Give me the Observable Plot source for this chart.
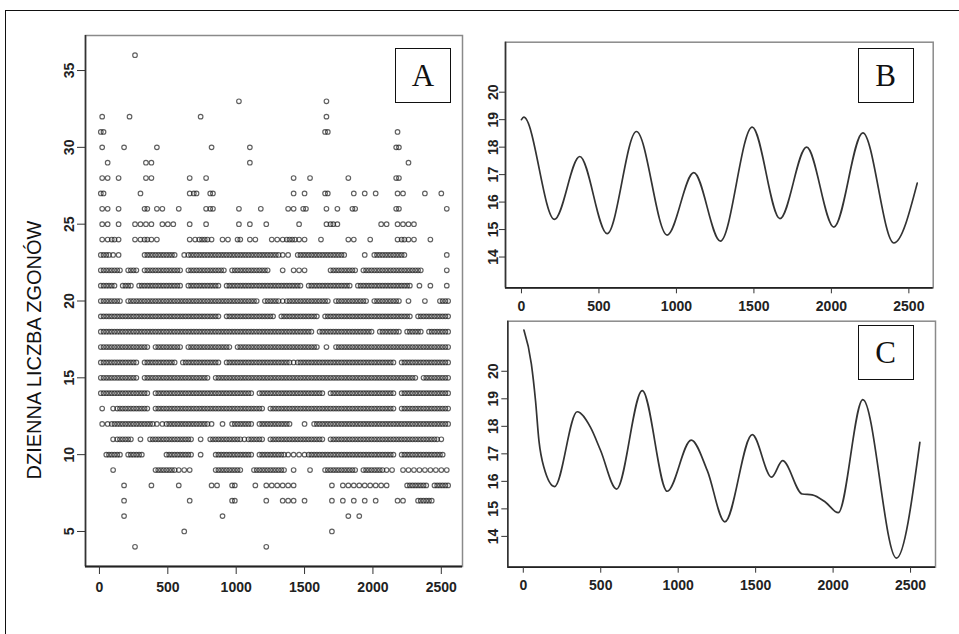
<!DOCTYPE html>
<html>
<head>
<meta charset="utf-8">
<script src="https://cdn.jsdelivr.net/npm/d3@7"></script>
<script src="https://cdn.jsdelivr.net/npm/@observablehq/plot@0.6"></script>
<style>
  html, body { margin: 0; padding: 0; background: #fff; }
  #wrap { position: relative; width: 959px; height: 634px; overflow: hidden; background: #fff; }
  #wrap svg { position: absolute; left: 0; top: 0; }
  .outer { position: absolute; left: 5px; top: 10px; width: 970px; height: 640px;
           border-top: 1.5px solid #111; border-left: 1.5px solid #111; box-sizing: border-box; }
  .ylab { position: absolute; left: 33.5px; top: 350px; transform: translate(-50%, -50%) rotate(-90deg);
          white-space: nowrap; font: 20px "Liberation Sans", Arial, sans-serif; color: #111; }
  .tag { position: absolute; width: 56px; height: 55px; box-sizing: border-box; border: 1.6px solid #111;
         display: flex; align-items: center; justify-content: center; background: #fff;
         font: 31px/1 "Liberation Serif", "Times New Roman", serif; color: #111; }
</style>
</head>
<body>
<div id="wrap">
  <div class="outer"></div>
</div>
<script>
// ---------------- DATA ----------------
// Panel A: daily deaths. Each row = one death count; tokens are 40-day bins
// ("a-b" dense run, single number = isolated circle, suffix o/O overrides density).
const binDays = 40;
const deathCounts = [36,35,34,33,32,31,30,29,28,27,26,25,24,23,22,21,20,19,18,17,16,15,14,13,12,11,10,9,8,7,6,5,4];
const rowBins = [
  "6",
  "",
  "",
  "25 41",
  "0 5 18 41",
  "0O 41O 54",
  "0 4 10 20 27 54O",
  "1 8 9 27 56",
  "0 1 3 8 9 16 19 35 38 45 54O",
  "0O 7 16 17O 20O 35 37 41O 46 48 50 54 55 59 62",
  "0 1 3 8O 10 11 14 19 20O 25 29 34 35 37O 41 43 46O 54O 63",
  "0 1 3 6-9o 11-13o 16 19 25 27 30 36 41 42O 43 51 52 54-57o",
  "0 1 2O 3 6 7 8O 9 10 16 17 18O 19O 20 22 23 25O 27 28 31 32 33 34O 35O 36 37 40 45 46 49 54 55O 56 57 60",
  "0-1 2o 3o 8-13 15o 16-32 33o 34o 36-44 48o 50-55 63o",
  "0-3 5-6 8-14 16-22 24-30 33o 35o 36 37o 42-46 48-51 52-58 63",
  "0-2 4-5 7-14 16-21 23-36 38-45 47-56 58o 60o 63o",
  "0-3 5-28 30-32 33o 34-41 43-48 50-54 56o 59o 62-63",
  "0-21 23-31 33-39 41-56 58-63",
  "0-38 40-49 51-54 56-58 60-63",
  "0-8 10-14 16-23 25-39 41o 43-63",
  "0-6 8-13 15-21 23-34 35o 36-53 55-63",
  "0-6 8-19 21-57 59-63",
  "0-8 10-27 29-40 42-53 55-63",
  "0o 2o 3-8 10-29 31-53 55-63",
  "0o 1o 2-9 10o 11o 12-19 20o 22o 24-27 29-34 37o 39-63",
  "2o 3-5 7o 9-16 18o 20-25 26o 27-29 31-40 42-54 55-61 62o",
  "1-3 5-7 12-16 18o 21-24 25-27 29-33 34-37o 38-53 55-56 57-62",
  "2o 10-13 14-16o 21-25 28-33 35o 38o 41-46 48-51 52-53o 55-56o 57-63o",
  "4o 9o 14o 20o 21o 24O 28o 30-34o 35o 42o 44o 45-47o 48-50o 51-52o 56-59 61-63",
  "4o 16o 24O 30o 33o 34o 35o 37o 42o 44o 46o 48o 50o 54o 55o 58-60",
  "4o 22o 45o 47o",
  "15o 42o",
  "6o 30o"
];

// Panel B: smoothed seasonal component (day, value)
const bDays   = [0, 15, 213, 376, 553, 742, 940, 1112, 1284, 1489, 1668, 1840, 2016, 2203, 2403, 2554];
const bValues = [19.0, 19.09, 15.37, 17.66, 14.85, 18.57, 14.8, 17.07, 14.58, 18.73, 15.4, 18.0, 15.09, 18.52, 14.51, 16.69];

// Panel C: smoothed series (day, value)
const cDays   = [4, 52, 79, 101, 133, 202, 348, 434, 499, 602, 768, 929, 1084, 1188, 1301, 1478, 1603, 1674, 1801, 1865, 1951, 2033, 2192, 2409, 2560];
const cValues = [21.5, 20.27, 18.93, 17.48, 16.51, 15.81, 18.53, 17.96, 17.12, 15.72, 19.3, 15.64, 17.5, 16.39, 14.53, 17.7, 16.15, 16.75, 15.54, 15.51, 15.24, 14.86, 18.97, 13.21, 17.42];

// Ticks and labels
const xTicks  = [0, 500, 1000, 1500, 2000, 2500];
const yTicksA = [5, 10, 15, 20, 25, 30, 35];
const yTicksBC = [14, 15, 16, 17, 18, 19, 20];
const yLabel = "DZIENNA LICZBA ZGONÓW";
const panelTags = ["A", "B", "C"];

// Scale domains
const xDomA = [-102, 2655], yDomA = [2.72, 37.28];
const xDomB = [-103, 2657], xDomC = [-100, 2661], yDomBC = [12.88, 21.82];

// ---------------- BUILD ----------------
function parseRow(spec) {
  const out = [];
  for (const tok of spec.split(/\s+/).filter(Boolean)) {
    const m = tok.match(/^(\d+)(?:-(\d+))?([oO]?)$/);
    const a = +m[1], b = m[2] ? +m[2] : a;
    const kind = m[3] || (m[2] ? "O" : "o");
    for (let i = a; i <= b; i++) out.push([i, kind]);
  }
  return out;
}
const points = [];
deathCounts.forEach((v, r) => {
  for (const [i, kind] of parseRow(rowBins[r])) {
    if (kind === "O") {
      points.push({day: i * binDays + 10, deaths: v});
      points.push({day: i * binDays + 30, deaths: v});
    } else {
      points.push({day: i * binDays + 20, deaths: v});
    }
  }
});
const bData = bDays.map((d, i) => ({day: d, value: bValues[i]}));
const cData = cDays.map((d, i) => ({day: d, value: cValues[i]}));

const W = 959, H = 634;
const fmt = d => String(d);
const baseStyle = {background: "transparent", overflow: "visible",
  fontFamily: "'Liberation Sans', Arial, sans-serif", fontSize: "14px", fontWeight: "bold", color: "#222"};

function boxMarks(xd, yd) {
  return [
    Plot.frame({stroke: "#8a8a8a", strokeWidth: 1.5}),
    Plot.ruleX([xd[0]], {stroke: "#333", strokeWidth: 1.6}),
    Plot.ruleY([yd[0]], {stroke: "#222", strokeWidth: 1.8})
  ];
}

const plotA = Plot.plot({
  width: W, height: H,
  marginLeft: 85, marginRight: W - 462, marginTop: 35, marginBottom: H - 566,
  style: baseStyle,
  x: {domain: xDomA, label: null},
  y: {domain: yDomA, label: null},
  marks: [
    Plot.dot(points, {x: "day", y: "deaths", r: 2.3, stroke: "#222", strokeOpacity: 0.72, strokeWidth: 1.15}),
    ...boxMarks(xDomA, yDomA),
    Plot.axisX(xTicks, {tickSize: 8, tickPadding: 8, label: null, stroke: "#333", tickFormat: fmt}),
    Plot.axisY(yTicksA, {tickSize: 8, tickPadding: 4, tickRotate: -90, label: null, stroke: "#333", tickFormat: fmt})
  ]
});

const plotB = Plot.plot({
  width: W, height: H,
  marginLeft: 505, marginRight: W - 932.7, marginTop: 41.7, marginBottom: H - 287.3,
  style: baseStyle,
  x: {domain: xDomB, label: null},
  y: {domain: yDomBC, label: null},
  marks: [
    Plot.line(bData, {x: "day", y: "value", curve: "monotone-x", stroke: "#333", strokeWidth: 1.7}),
    ...boxMarks(xDomB, yDomBC),
    Plot.axisX(xTicks, {tickSize: 6, tickPadding: 7, label: null, stroke: "#333", tickFormat: fmt}),
    Plot.axisY(yTicksBC, {tickSize: 6, tickPadding: 2, tickRotate: -90, label: null, stroke: "#333", tickFormat: fmt})
  ]
});

const plotC = Plot.plot({
  width: W, height: H,
  marginLeft: 507.3, marginRight: W - 935, marginTop: 320.7, marginBottom: H - 566.7,
  style: baseStyle,
  x: {domain: xDomC, label: null},
  y: {domain: yDomBC, label: null},
  marks: [
    Plot.line(cData, {x: "day", y: "value", curve: "monotone-x", stroke: "#333", strokeWidth: 1.7}),
    ...boxMarks(xDomC, yDomBC),
    Plot.axisX(xTicks, {tickSize: 6, tickPadding: 7, label: null, stroke: "#333", tickFormat: fmt}),
    Plot.axisY(yTicksBC, {tickSize: 6, tickPadding: 4, tickRotate: -90, label: null, stroke: "#333", tickFormat: fmt})
  ]
});

const wrap = document.getElementById("wrap");
wrap.appendChild(plotA);
wrap.appendChild(plotB);
wrap.appendChild(plotC);

const yl = document.createElement("div");
yl.className = "ylab";
yl.textContent = yLabel;
wrap.appendChild(yl);

const tagPos = [[395, 47.7], [857.7, 47.7], [857.7, 325.3]];
panelTags.forEach((t, i) => {
  const d = document.createElement("div");
  d.className = "tag";
  d.style.left = tagPos[i][0] + "px";
  d.style.top = tagPos[i][1] + "px";
  d.textContent = t;
  wrap.appendChild(d);
});
</script>
</body>
</html>
